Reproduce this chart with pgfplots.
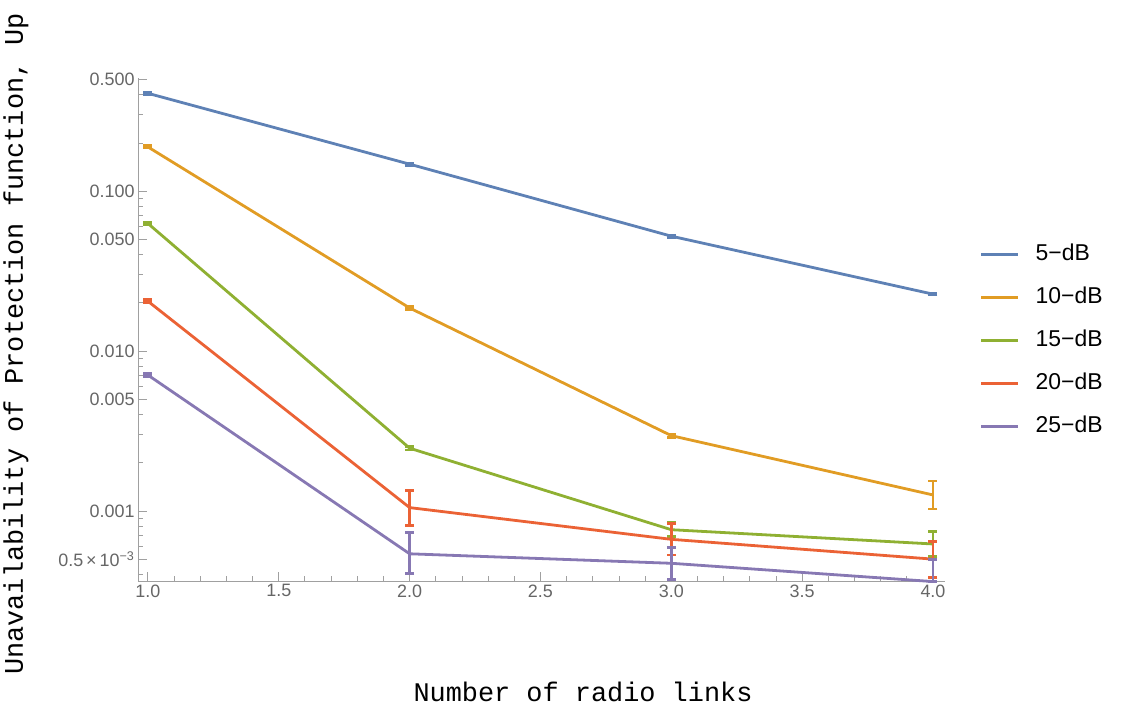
\documentclass[border=0pt]{standalone}
\usepackage{pgfplots}
\pgfplotsset{compat=1.18}
\usepackage{fontspec}
\setmainfont{Liberation Sans}
\newfontfamily\courier{Liberation Mono}

\definecolor{mblue}{HTML}{5E81B5}
\definecolor{morange}{HTML}{E19C24}
\definecolor{mgreen}{HTML}{8FB032}
\definecolor{mred}{HTML}{EB6235}
\definecolor{mpurple}{HTML}{8778B3}
\definecolor{tickgray}{HTML}{666666}
\definecolor{axisgray}{HTML}{A0A0A0}

\pgfplotsset{
  mline/.style={line width=2.8bp, #1, no marks,
    error bars/.cd, y dir=both, y explicit,
    error bar style={line width=2.8bp, #1},
    error mark options={rotate=90, #1, line width=2.8bp, mark size=4.5bp}},
}

\begin{document}
\begin{tikzpicture}
\path[use as bounding box] (0bp,0bp) rectangle (1127bp,712bp);
\begin{axis}[
  at={(138bp,131bp)}, anchor=south west,
  scale only axis, width=807bp, height=503bp,
  ymode=log,
  xmin=0.962, xmax=4.046,
  ymin=3.65e-4, ymax=0.51,
  clip=false,
  axis x line*=bottom, axis y line*=left,
  axis line style={-, draw=axisgray, line width=0.9bp},
  tick align=inside,
  major tick length=9bp, minor tick length=5bp,
  every tick/.style={draw=axisgray, line width=0.9bp},
  xtick={1,1.5,2,2.5,3,3.5,4},
  xticklabels={1.0,1.5,2.0,2.5,3.0,3.5,4.0},
  minor xtick={1.1,1.2,1.3,1.4,1.6,1.7,1.8,1.9,2.1,2.2,2.3,2.4,2.6,2.7,2.8,2.9,3.1,3.2,3.3,3.4,3.6,3.7,3.8,3.9},
  ytick={0.0005,0.001,0.005,0.01,0.05,0.1,0.5},
  yticklabels={0.5\,×\,10\textsuperscript{−3}\hspace{18bp},0.001,0.005,0.010,0.050,0.100,0.500},
  minor ytick={0.0004,0.0006,0.0007,0.0008,0.0009,0.002,0.003,0.004,0.006,0.007,0.008,0.009,0.02,0.03,0.04,0.06,0.07,0.08,0.09,0.2,0.3,0.4},
  ticklabel style={font=\fontsize{18}{18}\selectfont, text=tickgray},
  legend style={at={(1.043,0.672)}, anchor=north west, draw=none, fill=none,
    inner sep=0pt, row sep=21bp, column sep=0bp,
    font=\fontsize{23}{23}\selectfont,
    nodes={inner sep=0pt, text height=17bp, text depth=5bp}},
  legend cell align=left,
  legend image code/.code={\draw[#1, line width=2.8bp] (0bp,0bp) -- (37bp,0bp);},
]
\addplot[mline=mblue] coordinates {
  (1,0.409) +- (0,0.006)
  (2,0.1475) +- (0,0.002)
  (3,0.0523) +- (0,0.0007)
  (4,0.0227) +- (0,0.0003)
};
\addlegendentry{\hspace{16bp}5−dB}
\addplot[mline=morange] coordinates {
  (1,0.189) +- (0,0.003)
  (2,0.0186) +- (0,0.0003)
  (3,0.00296) +- (0,0.00007)
  (4,0.00126) += (0,0.00028) -= (0,0.00023)
};
\addlegendentry{\hspace{16bp}10−dB}
\addplot[mline=mgreen] coordinates {
  (1,0.0628) +- (0,0.0012)
  (2,0.00247) +- (0,0.00006)
  (3,0.000764) += (0,0.00008) -= (0,0.00007)
  (4,0.000622) += (0,0.000123) -= (0,0.000102)
};
\addlegendentry{\hspace{16bp}15−dB}
\addplot[mline=mred] coordinates {
  (1,0.0205) +- (0,0.0004)
  (2,0.00105) += (0,0.0003) -= (0,0.000235)
  (3,0.000665) += (0,0.000172) -= (0,0.000135)
  (4,0.0005) += (0,0.000143) -= (0,0.000115)
};
\addlegendentry{\hspace{16bp}20−dB}
\addplot[mline=mpurple] coordinates {
  (1,0.00708) +- (0,0.00018)
  (2,0.00054) += (0,0.00019) -= (0,0.000132)
  (3,0.000471) += (0,0.000119) -= (0,0.0001)
  (4,0.000362) += (0,0.000138) -= (0,0.00000)
};
\addlegendentry{\hspace{16bp}25−dB}
\end{axis}
\node[font=\courier\fontsize{27}{27}\selectfont, anchor=center, inner sep=0pt] at (583bp,20bp) {Number of radio links};
\node[font=\courier\fontsize{27}{27}\selectfont, rotate=90, anchor=west, inner sep=0pt] at (16bp,37bp) {Unavailability of Protection function, Up};
\end{tikzpicture}
\end{document}
